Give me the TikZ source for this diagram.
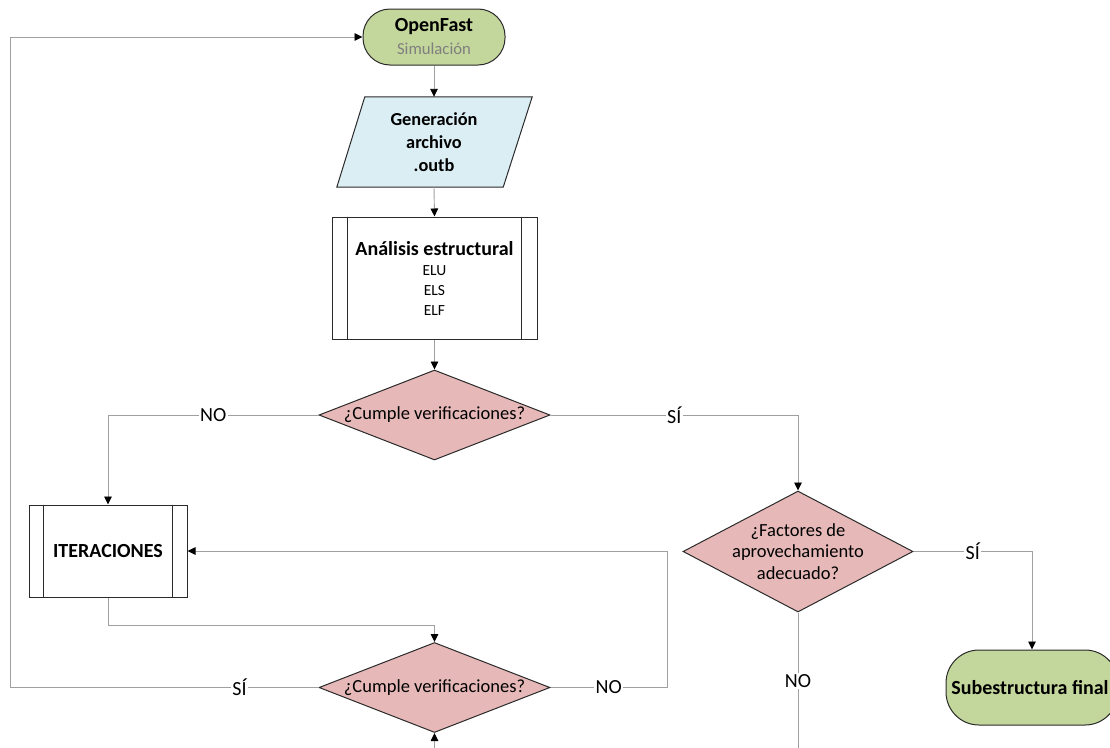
\documentclass[tikz,border=0pt]{standalone}
\usepackage{fontspec}
\setmainfont{Carlito}
\usetikzlibrary{shapes.geometric,arrows.meta,calc,backgrounds}
\definecolor{tgreen}{HTML}{C3D69B}
\definecolor{tblue}{HTML}{DBEEF4}
\definecolor{tpink}{HTML}{E6B9B8}
\definecolor{lgray}{HTML}{A0A0A0}
\definecolor{bord}{HTML}{2A2A2A}
\definecolor{txtgray}{HTML}{7F7F7F}
\begin{document}
\begin{tikzpicture}[x=1pt,y=-1pt,
  shapeline/.style={draw=bord,line width=1pt},
  term/.style={shapeline,fill=tgreen,rectangle,inner sep=0pt,align=center},
  subproc/.style={shapeline,fill=white,rectangle,inner sep=0pt,align=center,minimum height=122pt},
  dia/.style={shapeline,fill=tpink,diamond,inner sep=0pt,minimum width=231pt,minimum height=90pt},
  diatext/.style={align=center,font=\fontsize{18.5}{21.5}\selectfont},
  conn/.style={draw=lgray,line width=0.9pt,-{Triangle[length=8pt,width=7.5pt,black]}},
  plain/.style={draw=lgray,line width=0.9pt},
  lbl/.style={fill=white,inner sep=1.5pt,font=\fontsize{20}{22}\selectfont}]
\useasboundingbox (0,0) rectangle (1110,747);

% nodes
\node[term,rounded corners=27pt,minimum width=142pt,minimum height=56pt,
      font=\fontsize{16.7}{23}\selectfont] (open) at (434,37)
  {{\fontsize{20}{23}\selectfont\bfseries OpenFast}\\{\color{txtgray}Simulación}};

\node[inner sep=0pt,minimum width=138pt,minimum height=90pt,align=center,
      font=\fontsize{18.3}{23}\selectfont\bfseries] (gen) at (434,142) {Generación\\archivo\\.outb};
\begin{scope}[on background layer]
\path[shapeline,fill=tblue] (gen.north west) -- ($(gen.north east)+(29,0)$) -- (gen.south east)
  -- ($(gen.south west)+(-28,0)$) -- cycle;
\end{scope}

\node[subproc,minimum width=205pt,font=\fontsize{15.5}{20}\selectfont] (ana) at (434.5,278)
  {{\fontsize{20}{22}\selectfont\bfseries Análisis estructural}\\ELU\\ELS\\ELF};
\draw[shapeline] ([xshift=16pt]ana.north west) -- ([xshift=16pt]ana.south west);
\draw[shapeline] ([xshift=-16pt]ana.north east) -- ([xshift=-16pt]ana.south east);

\node[dia,label={[diatext]center:¿Cumple verificaciones?}] (d1) at (434.5,415) {};

\node[subproc,minimum width=158pt,minimum height=92pt,font=\fontsize{20}{22}\selectfont\bfseries] (iter) at (108,551) {ITERACIONES};
\draw[shapeline] ([xshift=15pt]iter.north west) -- ([xshift=15pt]iter.south west);
\draw[shapeline] ([xshift=-15pt]iter.north east) -- ([xshift=-15pt]iter.south east);

\node[dia,label={[diatext]center:¿Cumple verificaciones?}] (d2) at (434.5,687.5) {};

\node[dia,minimum width=230pt,minimum height=121pt,
      label={[diatext]center:¿Factores de\\aprovechamiento\\adecuado?}] (d3) at (798,551.5) {};

\node[term,rounded corners=33pt,minimum width=172pt,minimum height=75pt,
      font=\fontsize{20}{22}\selectfont\bfseries] (fin) at (1032,687.5) {\hspace*{-4pt}Subestructura final};

% free ends
\coordinate (cL) at (10,687.5);
\coordinate (cR) at (667,687.5);
\coordinate (cB) at (434.5,765);
\coordinate (cN) at (798,765);

% connectors
\draw[conn] (open.south) -- (gen.north);
\draw[conn] (gen.south) -- (ana.north);
\draw[conn] (ana.south) -- (d1.north);
\draw[conn] (d1.west) -| node[lbl,pos=0.25]{NO} (iter.north);
\draw[conn] (d1.east) -| node[lbl,pos=0.25]{SÍ} (d3.north);
\draw[conn] (iter.south) |- ($(d2.north)+(0,-17)$) -- (d2.north);
\draw[conn] (d2.west) -- node[lbl,pos=0.256]{SÍ} (cL) |- (open.west);
\draw[conn] (d2.east) -- node[lbl]{NO} (cR) |- (iter.east);
\draw[conn] (cB) -- (d2.south);
\draw[plain] (d3.south) -- node[lbl,pos=0.45]{NO} (cN);
\draw[conn] (d3.east) -| node[lbl,pos=0.25]{SÍ} (fin.north);
\end{tikzpicture}
\end{document}
